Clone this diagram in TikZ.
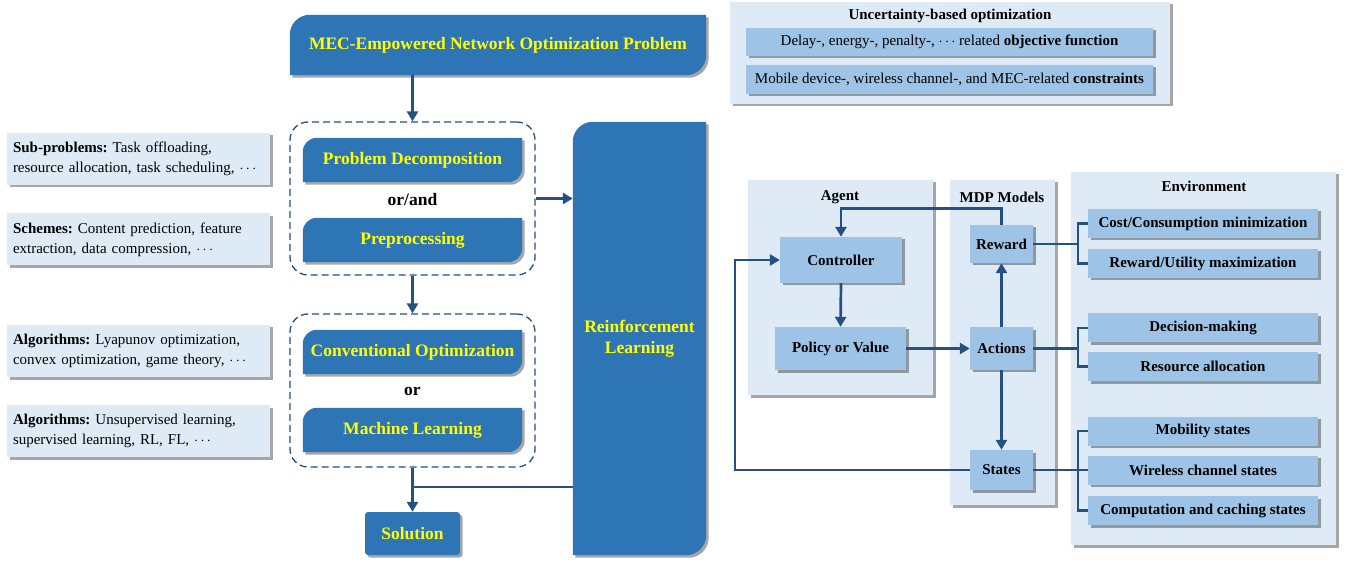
\documentclass[tikz,border=0pt]{standalone}
\usepackage{fontspec}
\setmainfont{Liberation Serif}
\usetikzlibrary{arrows.meta,shadows,backgrounds}

\definecolor{mecblue}{RGB}{46,117,182}
\definecolor{panelblue}{RGB}{222,235,247}
\definecolor{boxblue}{RGB}{157,195,230}
\definecolor{linkblue}{RGB}{37,80,128}
\definecolor{mecyellow}{RGB}{255,255,0}

\frenchspacing
\newcommand{\mecbig}{\fontsize{17.5}{21}\selectfont}
\newcommand{\mectext}{\fontsize{15}{20}\selectfont}
% blue box with two round corners (top left, bottom right)
\newcommand{\leaf}[2]{\fill[mecblue, shade] (#1.south west) -- ([yshift=-#2]#1.north west)
  arc[start angle=180, end angle=90, radius=#2] -- (#1.north east) -- ([yshift=#2]#1.south east)
  arc[start angle=0, end angle=-90, radius=#2] -- cycle;}

\begin{document}
\begin{tikzpicture}[x=1pt,y=1pt,
  shade/.style={drop shadow={shadow xshift=2.5pt,shadow yshift=-2.5pt,fill=black,opacity=0.35}},
  panel/.style={fill=panelblue, shade, inner sep=0pt},
  infobox/.style={fill=boxblue, shade, inner sep=0pt, font=\mectext\bfseries},
  notebox/.style={fill=panelblue, shade, inner sep=6pt, align=left, text width=251pt,
    minimum height=52pt, font=\mectext},
  bluebox/.style={inner sep=0pt, text=mecyellow, font=\mecbig\bfseries},
  group/.style={draw=linkblue, line width=1.3pt, dash pattern=on 7pt off 4pt, rounded corners=18pt},
  link/.style={draw=linkblue, line width=2.7pt},
  arrow/.style={link, -{Triangle[length=10pt,width=11pt]}},
  title/.style={font=\mectext\bfseries}
]
\useasboundingbox (0,0) rectangle (1347,-561);

% left column: problem and its solution path
\node[bluebox, minimum width=416pt, minimum height=60pt] (mec) at (498,-45) {MEC-Empowered Network Optimization Problem};
\node[group, minimum width=245pt, minimum height=153pt] (grp1) at (412.5,-198.5) {};
\node[bluebox, minimum width=219pt, minimum height=44pt] (pd) at (412.5,-160) {Problem Decomposition};
\node[font=\mecbig\bfseries] (orand) at (412.5,-200) {or/and};
\node[bluebox, minimum width=219pt, minimum height=44pt] (pre) at (412.5,-240) {Preprocessing};
\node[group, minimum width=245pt, minimum height=153pt] (grp2) at (412.5,-390.5) {};
\node[bluebox, minimum width=219pt, minimum height=44pt] (co) at (412.5,-352) {Conventional Optimization};
\node[font=\mecbig\bfseries] (or) at (412.5,-391) {or};
\node[bluebox, minimum width=219pt, minimum height=44pt] (ml) at (412.5,-430) {Machine Learning};
\node[bluebox, fill=mecblue, shade, rounded corners=3pt, minimum width=95pt, minimum height=43pt] (sol) at (412.5,-533.5) {Solution};
\node[bluebox, align=center, minimum width=133pt, minimum height=433pt] (rl) at (639.5,-338.5) {Reinforcement\\Learning};

\begin{pgfonlayer}{background}
  \leaf{mec}{20pt}
  \leaf{pd}{14pt}
  \leaf{pre}{14pt}
  \leaf{co}{14pt}
  \leaf{ml}{14pt}
  \leaf{rl}{20pt}
\end{pgfonlayer}

% notes on the left
\node[notebox] (sub) at (138.5,-159) {\textbf{Sub-problems:} Task offloading,\\resource allocation, task scheduling, $\cdots$};
\node[notebox] (sch) at (138.5,-239.5) {\textbf{Schemes:} Content prediction, feature\\extraction, data compression, $\cdots$};
\node[notebox] (alg1) at (138.5,-351) {\textbf{Algorithms:} Lyapunov optimization,\\convex optimization, game theory, $\cdots$};
\node[notebox] (alg2) at (138.5,-431) {\textbf{Algorithms:} Unsupervised learning,\\supervised learning, RL, FL, $\cdots$};

\coordinate (join) at (412.5,-487);
\draw[arrow] (mec.south -| grp1.north) -- (grp1.north);
\draw[arrow] (grp1.south) -- (grp2.north);
\draw[arrow] (grp2.south) -- (sol.north);
\draw[link] (rl.west |- join) -- (join);
\draw[arrow] (grp1.east) -- (grp1.east -| rl.west);

% uncertainty-based optimization
\node[panel, minimum width=440pt, minimum height=102pt] (unc) at (950,-53) {};
\node[title] (unct) at (950,-16) {Uncertainty-based optimization};
\node[infobox, font=\mectext, minimum width=407pt, minimum height=28pt] (obj) at (949.5,-42) {Delay-, energy-, penalty-, $\cdots$ related \textbf{objective function}};
\node[infobox, font=\mectext, minimum width=407pt, minimum height=29pt] (con) at (949.5,-79.5) {Mobile device-, wireless channel-, and MEC-related \textbf{constraints}};

% agent, MDP models and environment
\node[panel, minimum width=185pt, minimum height=215pt] (agent) at (840.5,-287.5) {};
\node[title] at (840,-197) {Agent};
\node[panel, minimum width=105pt, minimum height=325pt] (mdp) at (1002.5,-342.5) {};
\node[title] at (1002,-197) {MDP Models};
\node[panel, minimum width=265pt, minimum height=373pt] (env) at (1203.5,-358.5) {};
\node[title] at (1204,-186) {Environment};

\node[infobox, minimum width=122pt, minimum height=46pt] (ctrl) at (841,-260) {Controller};
\node[infobox, minimum width=131pt, minimum height=43pt] (pol) at (840.5,-348.5) {Policy or Value};
\node[infobox, minimum width=63pt, minimum height=38pt] (rew) at (1001.5,-244) {Reward};
\node[infobox, minimum width=63pt, minimum height=42pt] (act) at (1001.5,-348.5) {Actions};
\node[infobox, minimum width=63pt, minimum height=40pt] (sta) at (1001.5,-470) {States};

\node[infobox, minimum width=230pt, minimum height=29pt] (cost) at (1203,-223.5) {Cost/Consumption minimization};
\node[infobox, minimum width=230pt, minimum height=29pt] (util) at (1203,-263.5) {Reward/Utility maximization};
\node[infobox, minimum width=230pt, minimum height=29pt] (dec) at (1203,-328) {Decision-making};
\node[infobox, minimum width=230pt, minimum height=29pt] (res) at (1203,-366.5) {Resource allocation};
\node[infobox, minimum width=230pt, minimum height=29pt] (mob) at (1203,-431) {Mobility states};
\node[infobox, minimum width=230pt, minimum height=29pt] (wir) at (1203,-470) {Wireless channel states};
\node[infobox, minimum width=230pt, minimum height=29pt] (comp) at (1203,-510.5) {Computation and caching states};

\coordinate (back) at (735,0);
\coordinate (brk) at (1078,0);
\draw[arrow] (rew.north) -- ++(0,16) -| (ctrl.north);
\draw[arrow] (ctrl.south) -- (pol.north);
\draw[arrow] (pol.east) -- (act.west);
\draw[arrow] (act.north) -- (rew.south);
\draw[arrow] (act.south) -- (sta.north);
\draw[arrow] (sta.west) -- (sta.west -| back) |- (ctrl.west);

% brackets to the environment
\draw[link] (rew.east) -- (rew.east -| brk);
\draw[link] (cost.west) -| (brk |- util.west) -- (util.west);
\draw[link] (act.east) -- (act.east -| brk);
\draw[link] (dec.west) -| (brk |- res.west) -- (res.west);
\draw[link] (sta.east) -- (sta.east -| brk);
\draw[link] (mob.west) -| (brk |- comp.west) -- (comp.west);
\draw[link] (wir.west) -- (wir.west -| brk);
\end{tikzpicture}
\end{document}
